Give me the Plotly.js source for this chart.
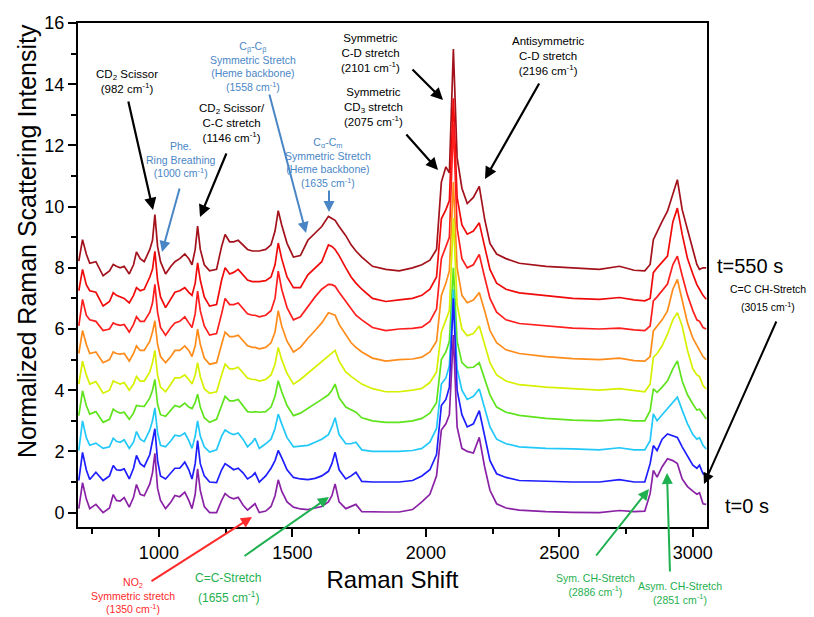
<!DOCTYPE html>
<html>
<head>
<meta charset="utf-8">
<script src="https://cdn.plot.ly/plotly-3.0.1.min.js"></script>
<style>html,body{margin:0;padding:0;background:#fff;}#chart{width:814px;height:617px;}</style>
</head>
<body>
<div id="chart"></div>
<script>
// Raman shift grid (cm^-1)
const wavenumber = [700,714,728,741,764,791,815,829,841,855,870,889,905,916,930,945,966,976,985,995,1006,1025,1045,1060,1078,1097,1112,1124,1136,1145,1155,1170,1190,1216,1235,1248,1265,1280,1297,1315,1332,1350,1360,1376,1400,1420,1435,1447,1460,1480,1504,1530,1558,1585,1610,1635,1648,1660,1675,1700,1720,1738,1760,1800,1850,1900,1950,1985,2015,2040,2058,2075,2088,2103,2117,2135,2155,2178,2200,2220,2240,2265,2300,2350,2450,2550,2650,2725,2780,2820,2840,2852,2866,2885,2905,2925,2942,2960,2980,3000,3015,3025,3038,3050];

// time labels and vertical offsets of the stacked spectra
const timeLabels = ['t=0 s','t1','t2','t3','t4','t5','t6','t7','t=550 s'];
const offsets = [0,1,2,3,4,5,6,7,8];

// normalized intensities (relative to each spectrum's offset)
const spec0 = [0.13,0.98,0.45,0.13,0.27,0.0,0.15,0.59,0.4,0.38, 0.49,0.18,0.5,0.92,0.6,0.55,0.94,1.3,1.94,0.8, 0.4,0.13,0.35,0.56,0.52,0.67,0.4,0.13,0.6,1.43, 0.72,0.2,0.0,0.0,0.4,0.62,0.5,0.45,0.5,0.25, 0.08,0.2,0.29,0.0,0.05,0.2,0.55,1.07,0.7,0.35, 0.18,0.12,0.1,0.15,0.2,0.35,0.55,0.94,0.35,0.13, 0.2,0.27,0.03,0.02,0.02,0.02,0.1,0.35,0.6,1.2, 2.7,2.9,3.2,5.8,2.8,2.1,2.0,1.95,2.46,1.5, 0.73,0.29,0.15,0.08,0.03,0.01,0.0,0.07,0.03,0.05, 0.62,1.38,1.16,1.5,1.76,1.7,1.6,1.1,0.85,0.7, 0.6,0.65,0.29,0.27];
const spec1 = [0.05,0.97,0.4,0.08,0.32,0.05,0.2,0.54,0.4,0.38, 0.43,0.1,0.45,0.87,0.6,0.5,0.9,1.3,1.74,0.7, 0.2,0.1,0.3,0.45,0.45,0.65,0.4,0.1,0.6,1.35, 0.6,0.2,0.0,-0.02,0.4,0.6,0.5,0.4,0.45,0.3, 0.1,0.2,0.3,0.0,0.2,0.45,0.7,1.03,0.8,0.4, 0.15,0.1,0.08,0.12,0.2,0.35,0.6,0.97,0.4,0.1, 0.2,0.32,0.02,0.0,0.0,0.0,0.05,0.2,0.4,0.9, 2.5,2.7,3.1,6.0,3.0,2.2,1.8,1.9,2.33,1.5, 0.7,0.27,0.15,0.05,0.02,0.0,0.0,0.08,0.0,0.0, 0.6,1.19,1.03,1.4,1.57,1.5,1.46,1.15,0.85,0.55, 0.45,0.55,0.27,0.2];
const spec2 = [0.03,1.0,0.45,0.2,0.27,0.1,0.15,0.43,0.33,0.3, 0.38,0.1,0.3,0.65,0.4,0.32,0.7,1.0,1.42,0.6, 0.2,0.15,0.35,0.53,0.5,0.6,0.35,0.1,0.5,1.0, 0.5,0.15,-0.02,0.05,0.5,0.7,0.6,0.55,0.6,0.4, 0.15,0.3,0.43,0.1,0.25,0.4,0.75,1.22,0.9,0.45, 0.15,0.17,0.2,0.3,0.4,0.55,0.8,1.1,0.55,0.25, 0.25,0.3,0.05,0.0,0.0,0.0,0.03,0.1,0.3,0.75, 2.2,2.4,2.8,5.3,2.7,2.0,1.7,1.8,2.04,1.4, 0.8,0.4,0.25,0.15,0.1,0.08,0.05,0.12,0.05,0.05, 0.35,1.23,1.0,1.2,1.4,1.6,1.77,1.35,0.9,0.55, 0.4,0.45,0.2,0.08];
const spec3 = [0.17,0.98,0.5,0.22,0.3,-0.05,0.05,0.38,0.3,0.25, 0.28,0.05,0.25,0.5,0.48,0.47,0.75,1.0,1.35,0.55, 0.2,0.15,0.35,0.5,0.45,0.58,0.45,0.4,0.6,0.87, 0.45,0.1,-0.05,0.05,0.5,0.8,0.65,0.65,0.7,0.5, 0.3,0.28,0.3,0.28,0.3,0.45,0.8,1.31,0.95,0.5, 0.17,0.25,0.4,0.55,0.7,0.85,1.0,1.2,0.75,0.45, 0.35,0.28,0.1,0.0,-0.05,-0.05,0.0,0.08,0.25,0.6, 2.0,2.25,2.6,5.0,2.6,1.9,1.74,1.75,1.9,1.4, 0.85,0.45,0.28,0.18,0.08,0.02,0.0,0.05,0.0,0.0, 0.33,1.04,0.93,1.1,1.31,1.7,1.96,1.3,0.85,0.55, 0.35,0.38,0.2,0.06];
const spec4 = [0.2,0.95,0.5,0.2,0.28,-0.1,0.0,0.3,0.25,0.2, 0.25,0.0,0.2,0.45,0.3,0.3,0.6,0.9,1.3,0.5, 0.1,-0.05,0.2,0.4,0.4,0.5,0.35,0.2,0.5,0.9, 0.45,0.05,-0.1,-0.05,0.5,0.85,0.7,0.7,0.75,0.55, 0.4,0.35,0.35,0.3,0.35,0.5,0.85,1.4,1.0,0.55, 0.2,0.35,0.55,0.75,0.95,1.1,1.2,1.3,0.95,0.6, 0.45,0.35,0.2,0.05,-0.05,-0.05,0.0,0.06,0.25,0.6, 1.9,2.3,2.6,5.63,2.8,2.0,1.78,1.85,2.1,1.5, 0.9,0.5,0.3,0.18,0.1,0.05,0.0,0.05,0.0,-0.05, 0.2,1.07,1.2,1.45,1.83,2.3,2.53,2.1,1.3,0.7, 0.5,0.45,0.15,0.04];
const spec5 = [0.2,0.95,0.5,0.2,0.25,-0.1,0.0,0.25,0.2,0.18, 0.2,-0.05,0.2,0.45,0.3,0.3,0.6,0.9,1.27,0.5, 0.1,-0.1,0.1,0.3,0.3,0.45,0.3,0.1,0.45,1.0, 0.5,0.05,-0.15,-0.1,0.5,0.9,0.75,0.75,0.8,0.6, 0.45,0.4,0.4,0.35,0.4,0.55,0.9,1.6,1.1,0.6, 0.25,0.4,0.7,0.95,1.2,1.53,1.5,1.45,1.15,0.8, 0.55,0.4,0.25,0.05,-0.05,0.0,0.02,0.08,0.25,0.6, 2.1,2.5,2.9,5.8,3.0,2.1,1.86,1.95,2.19,1.6, 0.95,0.55,0.32,0.2,0.1,0.03,0.0,0.05,-0.03,-0.05, 0.1,0.94,1.1,1.3,1.59,2.3,2.62,1.9,1.2,0.7, 0.45,0.3,0.1,0.0];
const spec6 = [0.1,0.97,0.45,0.3,0.25,-0.05,0.0,0.2,0.15,0.12, 0.15,-0.1,0.15,0.4,0.25,0.25,0.55,0.85,1.46,0.55, 0.05,-0.2,0.05,0.2,0.25,0.4,0.2,0.05,0.5,1.24, 0.6,0.1,-0.2,-0.15,0.5,1.0,0.8,0.8,0.85,0.65, 0.5,0.45,0.45,0.4,0.45,0.6,1.0,1.89,1.3,0.7, 0.3,0.4,0.75,1.05,1.3,1.46,1.45,1.4,1.2,0.9, 0.65,0.45,0.3,0.05,-0.05,0.0,0.02,0.06,0.25,0.65, 2.3,2.7,3.0,6.7,3.3,2.3,2.0,2.1,2.44,1.7, 1.0,0.55,0.3,0.18,0.1,0.03,0.0,0.03,-0.03,-0.05, 0.1,0.92,1.05,1.25,1.47,2.1,2.38,1.75,1.1,0.6, 0.3,0.25,0.05,0.0];
const spec7 = [0.25,0.95,0.45,0.25,0.2,-0.25,-0.1,0.19,0.1,0.05, 0.0,-0.15,0.1,0.35,0.25,0.3,0.7,0.95,1.54,0.6, 0.05,-0.3,0.0,0.2,0.25,0.35,0.2,0.1,0.5,1.16, 0.6,0.05,-0.25,-0.2,0.6,1.0,0.8,0.85,0.95,0.75, 0.6,0.55,0.55,0.55,0.58,0.7,1.1,1.81,1.3,0.7, 0.35,0.35,0.77,1.0,1.2,1.75,1.7,1.6,1.4,1.0, 0.7,0.5,0.3,0.0,-0.1,-0.05,0.0,0.1,0.3,0.7, 2.6,2.9,3.2,6.54,3.3,2.4,2.1,2.2,2.47,1.7, 0.95,0.5,0.3,0.18,0.08,0.0,-0.03,0.03,-0.05,-0.08, 0.0,0.84,1.0,1.2,1.38,2.5,2.95,2.1,1.3,0.8, 0.45,0.3,0.1,-0.03];
const spec8 = [0.22,0.92,0.45,0.15,0.2,-0.26,-0.1,0.11,0.05,0.0, 0.05,-0.2,0.1,0.52,0.3,0.2,0.6,0.9,1.74,0.7, 0.2,-0.2,0.05,0.2,0.3,0.45,0.3,0.1,0.6,1.36, 0.6,0.1,-0.1,-0.05,0.7,1.09,0.85,0.85,0.9,0.75, 0.6,0.55,0.55,0.55,0.6,0.75,1.2,1.87,1.4,0.8, 0.35,0.4,0.9,1.15,1.35,1.68,1.62,1.55,1.35,1.05, 0.75,0.55,0.35,0.05,-0.05,-0.1,0.0,0.1,0.25,0.6, 2.8,3.3,3.1,7.15,3.6,2.6,2.1,2.3,2.66,1.6, 0.8,0.45,0.3,0.15,0.05,0.0,-0.05,0.05,-0.08,-0.1, 0.11,0.92,1.2,1.52,1.85,2.4,2.88,1.9,1.2,0.6, 0.11,-0.05,0.0,0.0];

const spectra = [spec0,spec1,spec2,spec3,spec4,spec5,spec6,spec7,spec8];
const colors = ['#8a22a6','#1e1eff','#22c8f8','#5ee31c','#d6f000','#ff8c1a','#ff1e1e','#f00a0a','#a3111b'];

const traces = [];
for (let i = spectra.length - 1; i >= 0; i--) {
  traces.push({
    type:'scatter', mode:'lines', name: timeLabels[i],
    x: wavenumber,
    y: spectra[i].map(v => v + offsets[i]),
    line:{color: colors[i], width:1.7},
    hoverinfo:'skip'
  });
}

// pixel -> paper helpers (plot area: 78..707 x 23..527)
const L=78, R=707, T=23, B=527;
const px = v => (v - L)/(R - L);
const py = v => (B - v)/(B - T);

const BLUE='#4a86c6', GREEN='#1fb04f', RED='#ff2a2a', BLACK='#000';
const FAM='Liberation Sans, Arial, sans-serif';

function label(x,y,text,color,size,anchor,angle){
  return {xref:'paper',yref:'paper',x:px(x),y:py(y),text:text,showarrow:false,
    xanchor:anchor||'center',yanchor:'middle',align:'center',textangle:angle||0,
    font:{family:FAM,size:size,color:color}};
}
function arrow(x0,y0,x1,y1,color,w){
  return {xref:'paper',yref:'paper',x:px(x1),y:py(y1),ax:x0-x1,ay:y0-y1,
    axref:'pixel',ayref:'pixel',text:'',showarrow:true,arrowhead:2,arrowsize:1.1,
    arrowwidth:w||2,arrowcolor:color,standoff:0};
}

const annotations = [
  label(27,241,'Normalized Raman Scattering Intensity',BLACK,25,'center',-90),
  label(127,81.5,'CD<sub>2</sub> Scissor<br>(982 cm<sup>-1</sup>)',BLACK,11.5),
  label(181,159,'Phe.<br>Ring Breathing<br>(1000 cm<sup>-1</sup>)',BLUE,10.5),
  label(232,123.5,'CD<sub>2</sub> Scissor/<br>C-C stretch<br>(1146 cm<sup>-1</sup>)',BLACK,11.5),
  label(253,66,'C<sub>β</sub>-C<sub>β</sub><br>Symmetric Stretch<br>(Heme backbone)<br>(1558 cm<sup>-1</sup>)',BLUE,10.5),
  label(328,162.5,'C<sub>α</sub>-C<sub>m</sub><br>Symmetric Stretch<br>(Heme backbone)<br>(1635 cm<sup>-1</sup>)',BLUE,10.5),
  label(370,53,'Symmetric<br>C-D stretch<br>(2101 cm<sup>-1</sup>)',BLACK,11.5),
  label(373,107,'Symmetric<br>CD<sub>3</sub> stretch<br>(2075 cm<sup>-1</sup>)',BLACK,11.5),
  label(548,56,'Antisymmetric<br>C-D stretch<br>(2196 cm<sup>-1</sup>)',BLACK,11.5),
  label(715,266,'t=550 s',BLACK,20,'left'),
  label(768,289,'C=C CH-Stretch',BLACK,10.5),
  label(768,306,'(3015 cm<sup>-1</sup>)',BLACK,10.5),
  label(723,506,'t=0 s',BLACK,20,'left'),
  label(133,595,'NO<sub>2</sub><br>Symmetric stretch<br>(1350 cm<sup>-1</sup>)',RED,10.5),
  label(228,578,'C=C-Stretch',GREEN,12),
  label(228,597,'(1655 cm<sup>-1</sup>)',GREEN,12),
  label(595,584.5,'Sym. CH-Stretch<br>(2886 cm<sup>-1</sup>)',GREEN,10.5),
  label(680,593,'Asym. CH-Stretch<br>(2851 cm<sup>-1</sup>)',GREEN,10.5),
  arrow(128,100,153,210,BLACK,2.2),
  arrow(180,187,162,252,BLUE,2),
  arrow(227,152,200,217,BLACK,2.2),
  arrow(269,93,306,233,BLUE,2),
  arrow(329,189,329,212,BLUE,2),
  arrow(411,68,443,100,BLACK,2.2),
  arrow(405,133,438,170,BLACK,2.2),
  arrow(540,82,485,179,BLACK,2.2),
  arrow(777,320,704,484,BLACK,2),
  arrow(150,582,252,517,RED,2),
  arrow(243,557,329,497,GREEN,2),
  arrow(595,557,649,489,GREEN,2),
  arrow(670,573,667,473,GREEN,2)
];

const axisCommon = {
  showline:true, linewidth:2, linecolor:'#000', mirror:true,
  ticks:'outside', ticklen:8, tickwidth:2, tickcolor:'#000',
  showgrid:false, zeroline:false,
  tickfont:{family:FAM,size:18,color:'#000'}
};

const layout = {
  width:814, height:617,
  margin:{l:L, r:814-R, t:T, b:617-B},
  paper_bgcolor:'#fff', plot_bgcolor:'#fff',
  showlegend:false,
  font:{family:FAM,color:'#000'},
  xaxis: Object.assign({}, axisCommon, {
    range:[697,3053], tickmode:'linear', tick0:0, dtick:500,
    minor:{dtick:250, ticks:'outside', ticklen:5, tickwidth:2, tickcolor:'#000'},
    title:{text:'Raman Shift', font:{family:FAM,size:24,color:'#000'}, standoff:10}
  }),
  yaxis: Object.assign({}, axisCommon, {
    range:[-0.47,16], tickmode:'linear', tick0:0, dtick:2,
    minor:{dtick:1, ticks:'outside', ticklen:5, tickwidth:2, tickcolor:'#000'}
  }),
  annotations: annotations
};

Plotly.newPlot('chart', traces, layout, {staticPlot:true, displayModeBar:false});
</script>
</body>
</html>
